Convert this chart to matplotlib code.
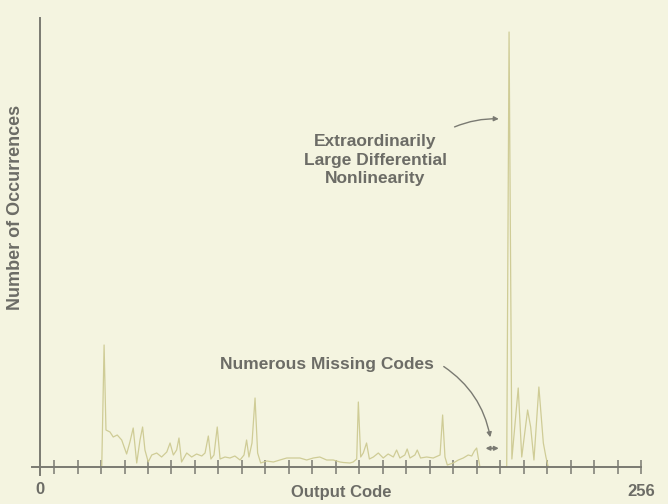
import numpy as np
import matplotlib.pyplot as plt
from matplotlib.patches import FancyArrowPatch

# histogram of output codes
codes = [26.3, 27.3, 28.1, 29.8, 31.2, 32.9, 34.8, 36.9, 38.3, 39.7, 41.2, 42.6, 43.7, 44.7,
         46.1, 47.6, 49.7, 51.8, 54.0, 55.4, 56.8, 58.2, 59.2, 60.3, 62.5, 64.6, 66.7, 68.9,
         70.3, 71.7, 72.8, 74.1, 75.5, 76.7, 78.8, 80.9, 83.0, 85.2, 86.9, 88.0, 89.0, 90.3,
         91.6, 92.7, 94.0, 96.6, 99.4, 102.2, 105.1, 107.9, 110.7, 113.6, 116.4, 119.2, 122.1,
         124.9, 127.8, 129.2, 132.0, 133.4, 134.9, 135.6, 136.6, 137.7, 139.1, 140.3, 142.0,
         144.1, 146.2, 148.3, 150.5, 151.9, 153.3, 155.4, 156.4, 157.6, 159.7, 160.7, 162.1,
         164.7, 167.5, 170.4, 171.5, 172.5, 173.5, 176.0, 178.2, 180.3, 182.4, 183.9, 185.0,
         186.0, 186.7, 187.4, 198.8, 199.8, 201.0, 203.7, 205.2, 207.7, 209.0, 210.4, 212.5,
         214.4, 215.5, 216.5]
counts = [0, 122, 37, 35, 30, 32, 27, 13, 25, 39, 4, 27, 40, 17,
          5, 12, 14, 10, 15, 24, 12, 17, 29, 5, 14, 10, 13, 11,
          14, 31, 8, 12, 40, 8, 10, 9, 11, 7, 12, 27, 10, 24,
          69, 14, 4, 6, 5, 7, 9, 9, 9, 7, 9, 10, 7,
          7, 5, 4.5, 4, 5, 8, 65, 10, 14, 24, 8, 10,
          14, 9, 13, 10, 17, 9, 12, 18, 9, 12, 17, 9,
          10, 9, 12, 52, 10, 2, 4, 7, 9, 12, 11, 16,
          19, 9, 0, 0, 435, 8, 79, 10, 57, 40, 7, 80,
          24, 10, 0]

tick_codes = np.arange(6, 257, 10)

bg = '#f4f4e0'
axis_col = '#7a7a72'
text_col = '#6c6c66'
curve_col = '#cfcc96'

fig = plt.figure(figsize=(6.68, 5.04), dpi=100, facecolor=bg)
ax = fig.add_axes([40 / 668, 37 / 504, 601 / 668, 449 / 504])
ax.set_facecolor(bg)
ax.set_xlim(0, 256)
ax.set_ylim(0, 449)
for s in ax.spines.values():
    s.set_visible(False)

ax.plot(codes, counts, color=curve_col, lw=0.9, zorder=2)

# axes drawn as crossing lines
ax.plot([-3.4, 256], [0, 0], color=axis_col, lw=1.4, clip_on=False, zorder=3)
ax.plot([0, 0], [-8, 449], color=axis_col, lw=1.4, clip_on=False, zorder=3)
ax.set_xticks(tick_codes)
ax.set_xticklabels([])
ax.set_yticks([])
ax.tick_params(axis='x', direction='inout', length=10, width=1.1, color=axis_col)

font = dict(family=['Liberation Sans', 'DejaVu Sans'], fontweight='bold', color=text_col, fontsize=12)
ax.text(0, -23, '0', ha='center', va='center', **font)
ax.text(256, -24, '256', ha='center', va='center', **font)
ax.text(128.2, -25, 'Output Code', ha='center', va='center', **font)
ax.text(-10.6, 260, 'Number of Occurrences', rotation=90, ha='center', va='center',
        **{**font, 'fontsize': 13})

ax.text(142.7, 307, 'Extraordinarily\nLarge Differential\nNonlinearity', ha='center', va='center',
        linespacing=1.3, **{**font, 'fontsize': 12.5})
ax.add_patch(FancyArrowPatch((175.5, 339), (196.6, 348), connectionstyle='arc3,rad=-0.12',
                             arrowstyle='-|>', mutation_scale=7, color=axis_col, lw=1.0))

ax.text(122.3, 103, 'Numerous Missing Codes', ha='center', va='center', **{**font, 'fontsize': 12.5})
ax.add_patch(FancyArrowPatch((171, 102), (192, 27), connectionstyle='arc3,rad=-0.22',
                             arrowstyle='-|>', mutation_scale=7, color=axis_col, lw=1.0))
ax.add_patch(FancyArrowPatch((188.6, 18.7), (196.6, 18.7), arrowstyle='<|-|>',
                             mutation_scale=6, color=axis_col, lw=1.2))

fig.savefig('out.png', dpi=100, facecolor=bg)
